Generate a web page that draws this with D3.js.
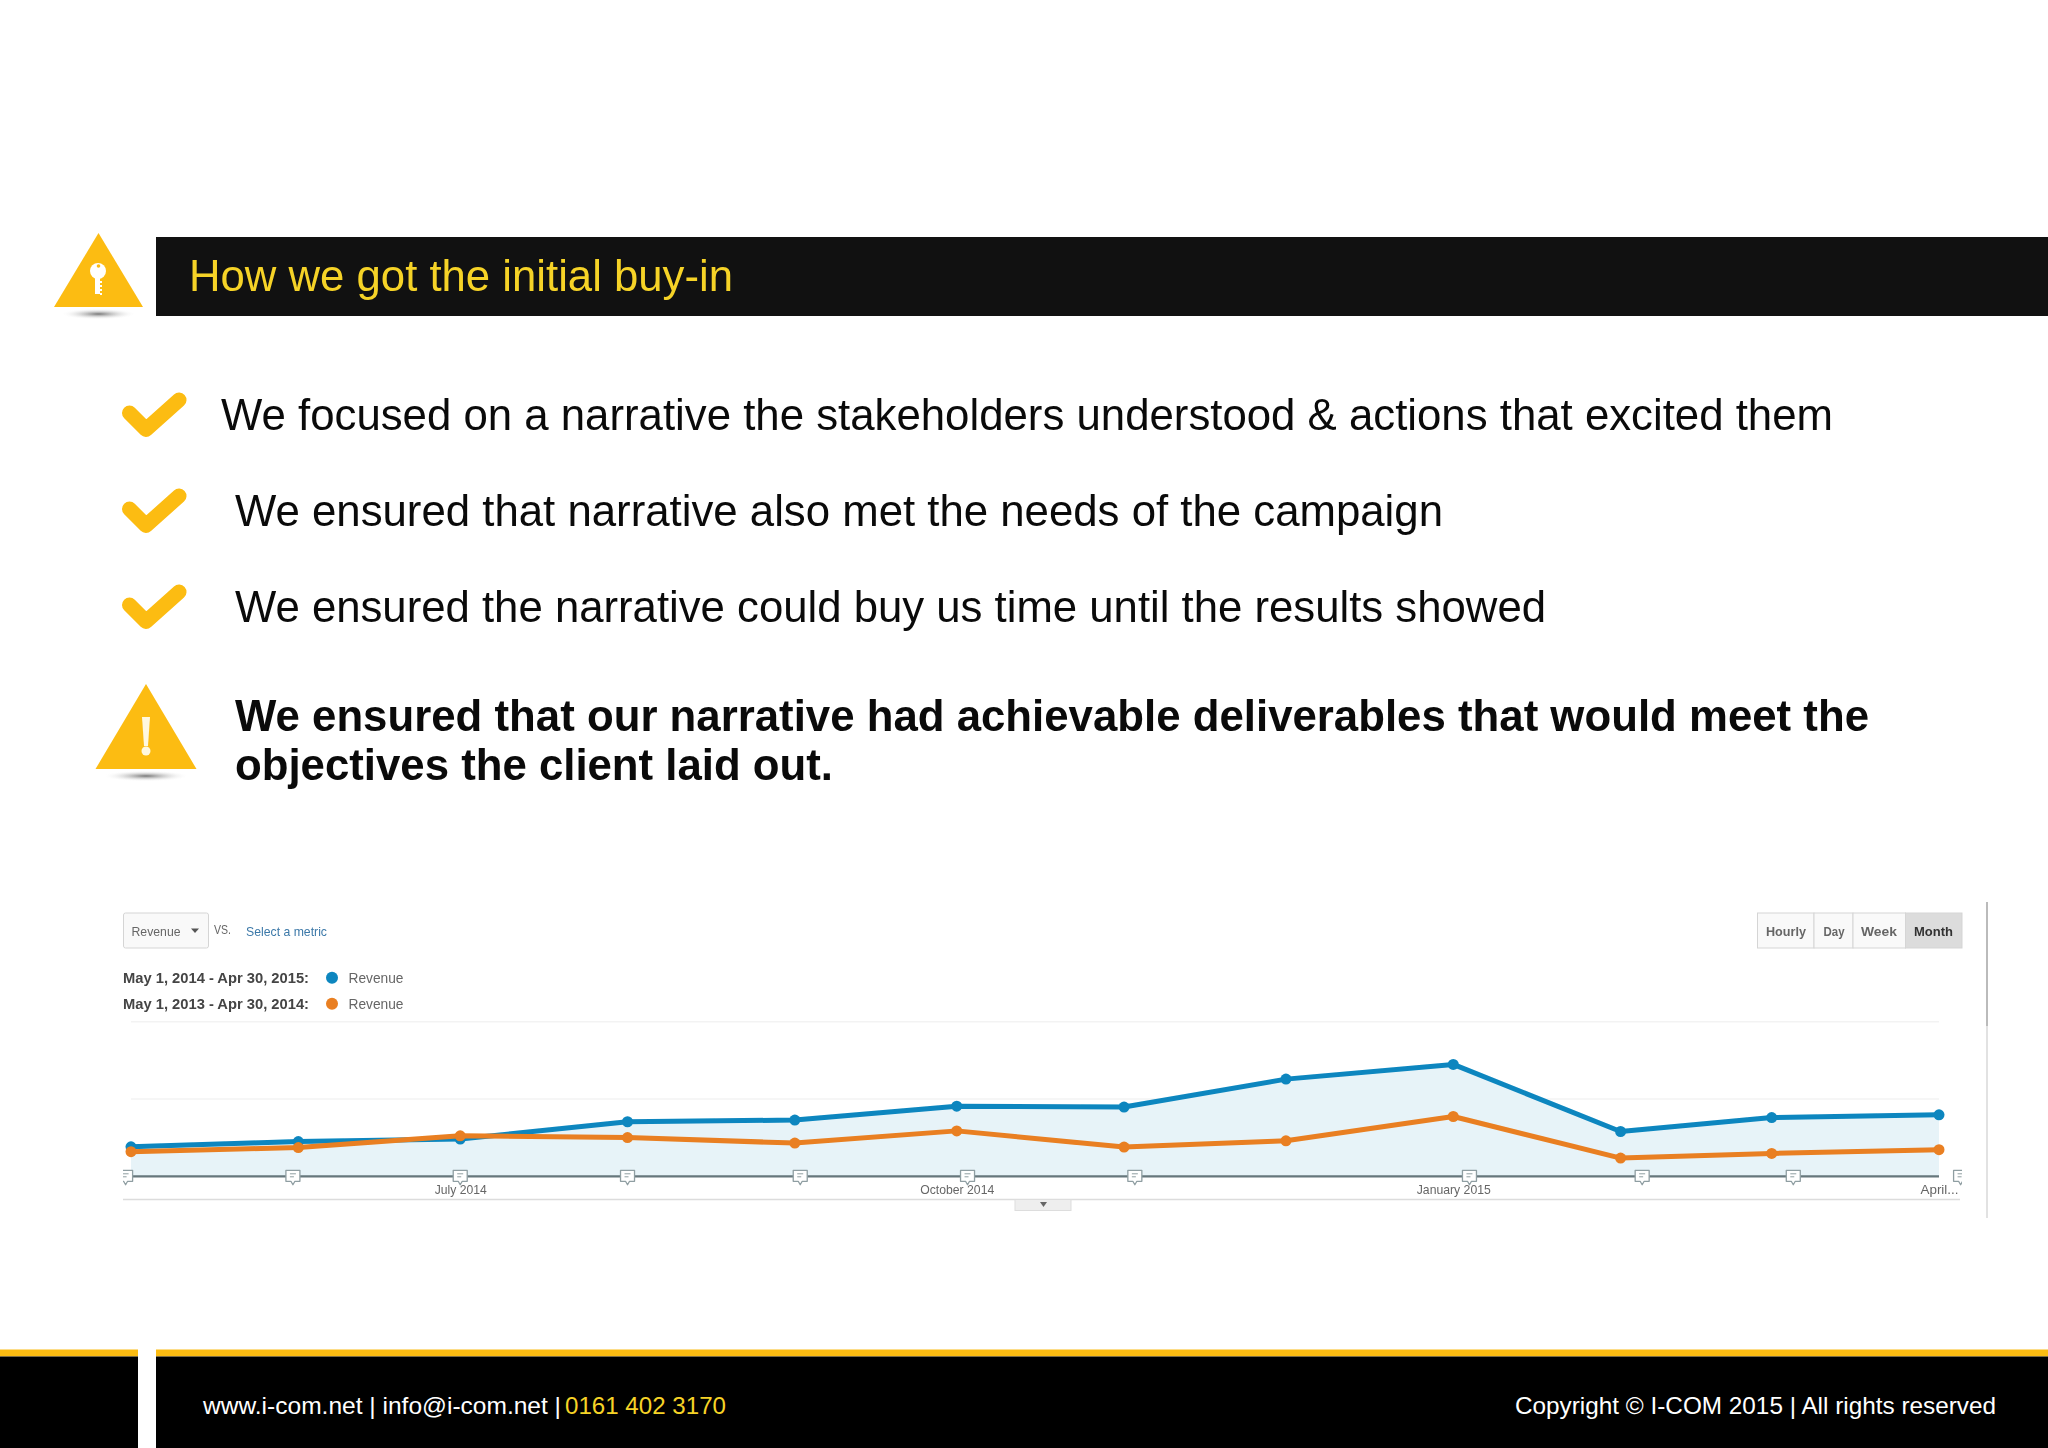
<!DOCTYPE html>
<html>
<head>
<meta charset="utf-8">
<script src="https://cdn.jsdelivr.net/npm/d3@7"></script>
<style>
  html, body { margin: 0; padding: 0; background: #fff; }
  svg { display: block; font-family: "Liberation Sans", Arial, sans-serif; filter: blur(0.4px); }
</style>
</head>
<body>
<svg id="slide" width="2048" height="1448"></svg>
<script>
// Chart values (revenue has no printed axis, so this is an index)
var months = ["2014-05-01", "2014-06-01", "2014-07-01", "2014-08-01", "2014-09-01", "2014-10-01",
              "2014-11-01", "2014-12-01", "2015-01-01", "2015-02-01", "2015-03-01", "2015-04-01"];
var revenueCurrent  = [19.1, 22.5, 24.1, 35.3, 36.4, 45.4, 44.8, 62.9, 72.4, 29.0, 38.0, 39.8];
var revenuePrevious = [15.9, 18.6, 26.2, 25.1, 21.5, 29.4, 18.9, 23.0, 38.7, 11.8, 14.8, 17.2];
var tickDates  = ["2014-07-01", "2014-10-01", "2015-01-01", "2015-04-01"];
var tickLabels = ["July 2014", "October 2014", "January 2015", "April..."];
var annotationDates = ["2014-04-30", "2014-05-31", "2014-07-01", "2014-08-01", "2014-09-02", "2014-10-03",
                       "2014-11-03", "2015-01-04", "2015-02-05", "2015-03-05", "2015-04-05"];
var legendRanges = ["May 1, 2014 - Apr 30, 2015:", "May 1, 2013 - Apr 30, 2014:"];
var intervalButtons = ["Hourly", "Day", "Week", "Month"];

var BLUE = "#0a86bf", ORANGE = "#e97f20", GOLD = "#fcbc12";

var parseDate = d3.utcParse("%Y-%m-%d");
var svg = d3.select("#slide");

// text helper, width is forced so it lines up with the slide
function label(parent, str, x, y, size, width, opts) {
  opts = opts || {};
  var t = parent.append("text")
    .attr("x", x).attr("y", y)
    .attr("font-size", size)
    .attr("fill", opts.fill || "#000")
    .attr("font-weight", opts.weight || "normal")
    .text(str);
  if (width) t.attr("textLength", width).attr("lengthAdjust", "spacingAndGlyphs");
  return t;
}

var defs = svg.append("defs");
defs.append("filter").attr("id", "soft").append("feGaussianBlur").attr("stdDeviation", 0.6);
var shadow = defs.append("radialGradient").attr("id", "shadow");
shadow.append("stop").attr("offset", "0%").attr("stop-color", "#777");
shadow.append("stop").attr("offset", "100%").attr("stop-color", "#fff").attr("stop-opacity", 0);
defs.append("clipPath").attr("id", "markerClip")
  .append("rect").attr("x", 123).attr("y", 1150).attr("width", 1839).attr("height", 50);

// header bar
svg.append("rect").attr("x", 156).attr("y", 237).attr("width", 1892).attr("height", 79).attr("fill", "#111");
label(svg, "How we got the initial buy-in", 189, 290.5, 43.6, 544, { fill: "#f6d327" });

function triangle(cx, top, halfW, bottom) {
  svg.append("ellipse").attr("cx", cx).attr("cy", bottom + 7).attr("rx", halfW * 0.85).attr("ry", 5.5)
    .attr("fill", "url(#shadow)");
  svg.append("path")
    .attr("d", "M" + cx + "," + top + "L" + (cx + halfW) + "," + bottom + "L" + (cx - halfW) + "," + bottom + "Z")
    .attr("fill", GOLD);
}

// key icon
triangle(98.5, 233, 44.5, 307);
svg.append("circle").attr("cx", 98).attr("cy", 271).attr("r", 8).attr("fill", "#fff");
svg.append("rect").attr("x", 95).attr("y", 276).attr("width", 5).attr("height", 18).attr("fill", "#fff");
[281, 285, 289, 293].forEach(function (ky) {
  svg.append("rect").attr("x", 100).attr("y", ky).attr("width", 2).attr("height", 2).attr("fill", "#fff");
});
svg.append("circle").attr("cx", 98.5).attr("cy", 266).attr("r", 1.8).attr("fill", GOLD);

// warning icon
triangle(146, 684, 50.5, 769);
svg.append("path").attr("d", "M142,717L150,717L148,746L144,746Z").attr("fill", "#fff8e0");
svg.append("circle").attr("cx", 146).attr("cy", 751).attr("r", 4.5).attr("fill", "#fff8e0");

// tick marks next to the bullets
[0, 96, 192].forEach(function (dy) {
  svg.append("path")
    .attr("d", "M129.5," + (413 + dy) + "L146," + (429.5 + dy) + "L179," + (400 + dy))
    .attr("fill", "none").attr("stroke", GOLD)
    .attr("stroke-width", 15).attr("stroke-linejoin", "round").attr("stroke-linecap", "round");
});

label(svg, "We focused on a narrative the stakeholders understood & actions that excited them", 221, 429.8, 43.6, 1612, { fill: "#0a0a0a" });
label(svg, "We ensured that narrative also met the needs of the campaign", 235, 525.8, 43.6, 1208, { fill: "#0a0a0a" });
label(svg, "We ensured the narrative could buy us time until the results showed", 235, 621.8, 43.6, 1311, { fill: "#0a0a0a" });
label(svg, "We ensured that our narrative had achievable deliverables that would meet the", 235, 730.8, 43.6, 1634, { weight: "bold", fill: "#0a0a0a" });
label(svg, "objectives the client laid out.", 235, 779.8, 43.6, 598, { weight: "bold", fill: "#0a0a0a" });

// analytics screenshot
var chart = svg.append("g").attr("filter", "url(#soft)");

var x = d3.scaleUtc()
  .domain([parseDate(months[0]), parseDate(months[months.length - 1])])
  .range([131, 1939]);
var y = d3.scaleLinear().domain([0, 100]).range([1176.3, 1021.8]);

// side rule of the screenshot
chart.append("line").attr("x1", 1987).attr("x2", 1987).attr("y1", 902).attr("y2", 1026).attr("stroke", "#bbb").attr("stroke-width", 2);
chart.append("line").attr("x1", 1987).attr("x2", 1987).attr("y1", 1026).attr("y2", 1218).attr("stroke", "#e2e2e2").attr("stroke-width", 2);

// metric dropdown
chart.append("rect").attr("x", 123.5).attr("y", 913).attr("width", 85).attr("height", 35).attr("rx", 2)
  .attr("fill", "#f9f9f9").attr("stroke", "#d5d5d5");
label(chart, "Revenue", 131.5, 935.5, 13.5, 49, { fill: "#666" });
chart.append("path").attr("d", "M191,928.5h8l-4,4.5z").attr("fill", "#555");
label(chart, "VS.", 214, 933.5, 12, 17, { fill: "#666" });
label(chart, "Select a metric", 246, 935.5, 13.5, 81, { fill: "#3b78a8" });

// legend
var legendColors = [BLUE, ORANGE];
legendRanges.forEach(function (range, i) {
  var base = 982.7 + i * 26;
  label(chart, range, 123, base, 15, 186, { fill: "#444", weight: "bold" });
  chart.append("circle").attr("cx", 332).attr("cy", base - 5).attr("r", 6).attr("fill", legendColors[i]);
  label(chart, "Revenue", 348.5, base, 15, 55, { fill: "#666" });
});

// interval buttons
var buttonEdges = [1757.5, 1814, 1853, 1905.5, 1962];
var buttonText = [[1766, 40], [1823.5, 21], [1861, 36], [1914, 39]];
intervalButtons.forEach(function (name, i) {
  var selected = name === "Month";
  chart.append("rect")
    .attr("x", buttonEdges[i]).attr("y", 913)
    .attr("width", buttonEdges[i + 1] - buttonEdges[i]).attr("height", 35)
    .attr("fill", selected ? "#dcdcdc" : "#f9f9f9").attr("stroke", "#d5d5d5");
  label(chart, name, buttonText[i][0], 935.5, 13.5, buttonText[i][1], { fill: selected ? "#333" : "#666", weight: "bold" });
});

// gridlines
[100, 50].forEach(function (v) {
  chart.append("line").attr("x1", 131).attr("x2", 1939).attr("y1", y(v)).attr("y2", y(v))
    .attr("stroke", "#f3f3f3").attr("stroke-width", 1.5);
});

var current = months.map(function (m, i) { return { date: parseDate(m), value: revenueCurrent[i] }; });
var previous = months.map(function (m, i) { return { date: parseDate(m), value: revenuePrevious[i] }; });

var area = d3.area()
  .x(function (d) { return x(d.date); })
  .y0(y(0))
  .y1(function (d) { return y(d.value); });
var line = d3.line()
  .x(function (d) { return x(d.date); })
  .y(function (d) { return y(d.value); });

chart.append("path").datum(current).attr("d", area).attr("fill", "#e7f3f8");

// x axis
var axis = d3.axisBottom(x)
  .tickValues(tickDates.map(parseDate))
  .tickFormat(function (d, i) { return tickLabels[i]; })
  .tickSize(0)
  .tickPadding(8);
var axisG = chart.append("g").attr("transform", "translate(0," + y(0) + ")").call(axis);
axisG.select(".domain").remove();
axisG.selectAll("text")
  .attr("font-family", "Liberation Sans, Arial, sans-serif")
  .attr("font-size", 13.5)
  .attr("fill", "#666")
  .attr("textLength", function (d, i) { return [52, 74, 74, 38][i]; })
  .attr("lengthAdjust", "spacingAndGlyphs");

chart.append("line").attr("x1", 124).attr("x2", 1939).attr("y1", y(0)).attr("y2", y(0))
  .attr("stroke", "#66777c").attr("stroke-width", 2.2);

// annotation markers on the axis, first and last get cut by the plot edge
var markers = chart.append("g").attr("clip-path", "url(#markerClip)");
annotationDates.forEach(function (d) {
  var ax = x(parseDate(d));
  var ay = y(0);
  markers.append("path")
    .attr("d", "M" + (ax - 7) + "," + (ay - 6) + "h14v11h-5l-2,3.5l-2,-3.5h-5z")
    .attr("fill", "#fff").attr("stroke", "#8f9ea2").attr("stroke-width", 1.3).attr("stroke-linejoin", "round");
  markers.append("path").attr("d", "M" + (ax - 3) + "," + (ay - 2.5) + "h6M" + (ax - 3) + "," + (ay + 0.5) + "h4")
    .attr("stroke", "#8f9ea2").attr("stroke-width", 1);
});

// series, orange is drawn over blue
[[current, BLUE], [previous, ORANGE]].forEach(function (s) {
  chart.append("path").datum(s[0]).attr("d", line)
    .attr("fill", "none").attr("stroke", s[1]).attr("stroke-width", 5).attr("stroke-linejoin", "round");
  chart.selectAll(null).data(s[0]).enter().append("circle")
    .attr("cx", function (d) { return x(d.date); })
    .attr("cy", function (d) { return y(d.value); })
    .attr("r", 5.5)
    .attr("fill", s[1]);
});

// bottom rule and collapse tab
chart.append("line").attr("x1", 123).attr("x2", 1960).attr("y1", 1199.5).attr("y2", 1199.5).attr("stroke", "#dcdcdc").attr("stroke-width", 1.5);
chart.append("rect").attr("x", 1015).attr("y", 1199.5).attr("width", 56).attr("height", 11).attr("fill", "#eee").attr("stroke", "#ddd");
chart.append("path").attr("d", "M1040,1202h7l-3.5,5z").attr("fill", "#666");

// footer
svg.append("rect").attr("x", 0).attr("y", 1349.5).attr("width", 138).attr("height", 7).attr("fill", GOLD);
svg.append("rect").attr("x", 156).attr("y", 1349.5).attr("width", 1892).attr("height", 7).attr("fill", GOLD);
svg.append("rect").attr("x", 0).attr("y", 1356.5).attr("width", 138).attr("height", 92).attr("fill", "#000");
svg.append("rect").attr("x", 156).attr("y", 1356.5).attr("width", 1892).attr("height", 92).attr("fill", "#000");
label(svg, "www.i-com.net | info@i-com.net |", 203, 1413.5, 24, 358, { fill: "#fff" });
label(svg, "0161 402 3170", 565, 1413.5, 24, 161, { fill: "#f6d327" });
label(svg, "Copyright © I-COM 2015 | All rights reserved", 1515, 1413.5, 24, 481, { fill: "#fff" });
</script>
</body>
</html>
